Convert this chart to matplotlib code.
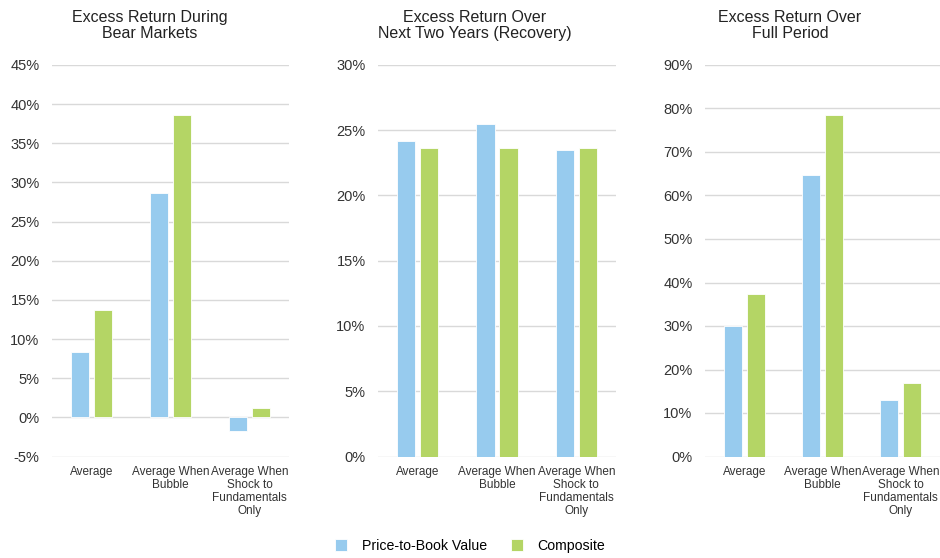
import matplotlib
matplotlib.use("Agg")
import matplotlib.pyplot as plt
import numpy as np
from matplotlib.ticker import FuncFormatter

plt.rcParams['font.family'] = ['Liberation Sans', 'DejaVu Sans']

categories = ["Average", "Average When\nBubble", "Average When\nShock to\nFundamentals\nOnly"]
series_names = ["Price-to-Book Value", "Composite"]

titles = ["Excess Return During\nBear Markets",
          "Excess Return Over\nNext Two Years (Recovery)",
          "Excess Return Over\nFull Period"]

bear_pb = [8.4, 28.7, -1.75]
bear_comp = [13.7, 38.6, 1.2]
recov_pb = [24.15, 25.5, 23.45]
recov_comp = [23.67, 23.65, 23.67]
full_pb = [30.1, 64.7, 12.9]
full_comp = [37.4, 78.6, 16.8]

yticks_list = [np.arange(-5, 46, 5), np.arange(0, 31, 5), np.arange(0, 91, 10)]
ylims = [(-5, 45), (0, 30), (0, 90)]

blue = "#97CBEE"
green = "#B4D565"
grid_c = "#D9D9D9"

fig = plt.figure(figsize=(9.4, 5.58), dpi=100)
W, H = 940, 558
axes_px = [(52, 289), (378, 616), (705, 940)]
top_px, bot_px = 65, 456.5

data = [(bear_pb, bear_comp), (recov_pb, recov_comp), (full_pb, full_comp)]
title_x = [150, 475, 790]

handles = None
for i, ((l, r), (pb, comp)) in enumerate(zip(axes_px, data)):
    ax = fig.add_axes([l / W, 1 - bot_px / H, (r - l) / W, (bot_px - top_px) / H])
    x = np.arange(len(categories))
    w = 0.23
    b1 = ax.bar(x - 0.145, pb, w, color=blue, edgecolor="white", linewidth=0.6, zorder=3, label=series_names[0])
    b2 = ax.bar(x + 0.145, comp, w, color=green, edgecolor="white", linewidth=0.6, zorder=3, label=series_names[1])
    handles = [b1, b2]
    ax.set_xlim(-0.5, 2.5)
    ax.set_ylim(*ylims[i])
    ax.set_yticks(yticks_list[i])
    ax.yaxis.set_major_formatter(FuncFormatter(lambda v, p: f"{v:.0f}%"))
    ax.grid(axis="y", color=grid_c, linewidth=1.0, zorder=0)
    for s in ax.spines.values():
        s.set_visible(False)
    ax.tick_params(axis="both", length=0)
    ax.tick_params(axis="y", labelsize=10.5, labelcolor="#333333", pad=9)
    ax.set_xticks(x)
    ax.set_xticklabels(categories, fontsize=8.5, color="#333333", linespacing=1.1)
    ax.tick_params(axis="x", pad=7)
    fig.text(title_x[i] / W, 1 - 10 / H, titles[i], ha="center", va="top",
             fontsize=11.5, color="#222222", linespacing=1.05)

fig.legend(handles, series_names, loc="center", bbox_to_anchor=(470 / W, 1 - 546 / H),
           ncol=2, frameon=False, fontsize=10.2, handlelength=0.9, handleheight=0.9,
           columnspacing=1.7, handletextpad=1.0)

fig.savefig("out.png", dpi=100)
